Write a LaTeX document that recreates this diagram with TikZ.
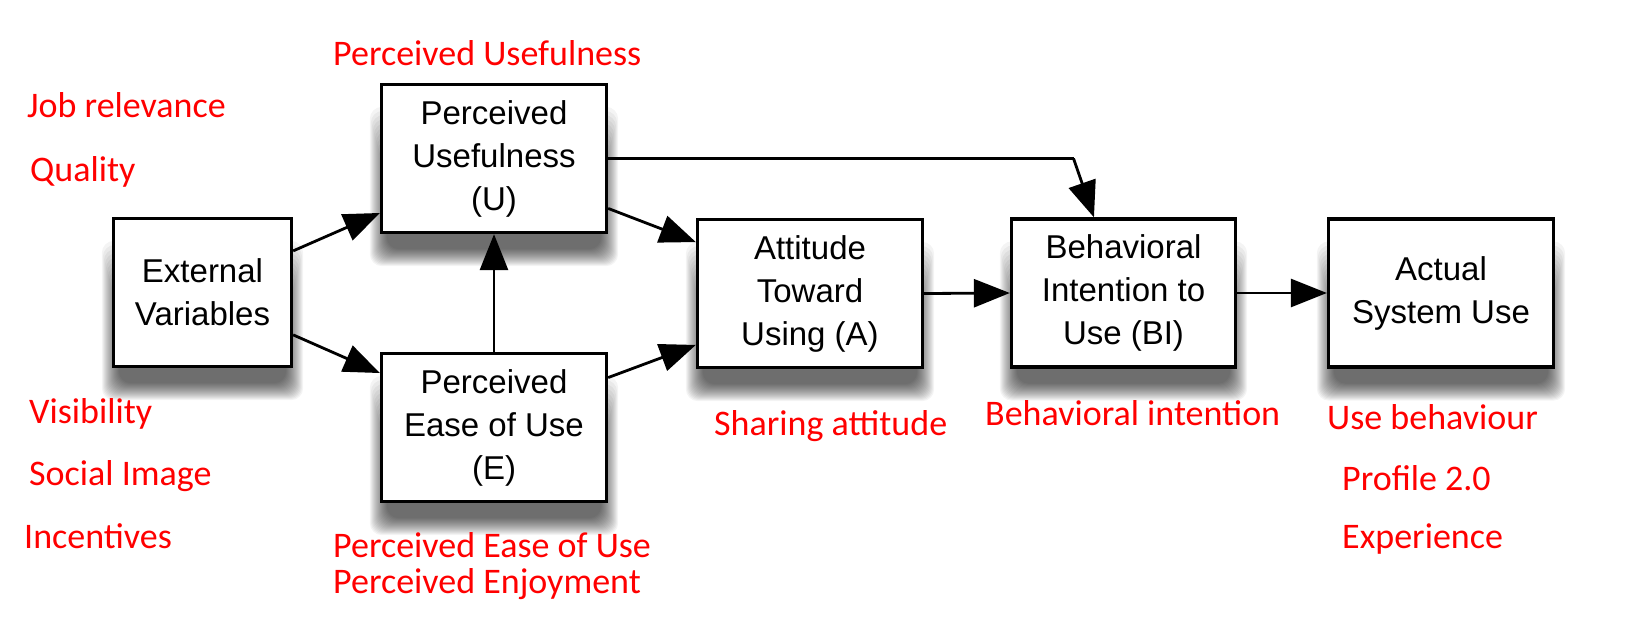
\documentclass[tikz,border=0pt]{standalone}
\usepackage{fontspec}
\setmainfont{Liberation Sans}
\newfontfamily\labfont{Carlito}
\usetikzlibrary{arrows.meta,calc}
\pgfdeclarelayer{bg}
\pgfsetlayers{bg,main}
\begin{document}
\begin{tikzpicture}[x=1pt,y=-1pt,
  box/.style={draw=black,line width=3.3pt,fill=white,align=center,inner sep=0pt,
    minimum width=225pt,minimum height=148pt,
    font=\fontsize{33}{43}\selectfont},
  shadowlayer/.style={fill=black,opacity=0.042,rounded corners=12pt},
  arr/.style={line width=2.8pt,-{Triangle[length=36pt,width=28pt]}},
  lab/.style={anchor=base west,inner sep=0pt,text=red,font=\labfont\fontsize{36}{40}\selectfont}]
\useasboundingbox (0,0) rectangle (1651,627);
\begin{pgfonlayer}{bg}
\fill[white] (0,0) rectangle (1651,627);
\end{pgfonlayer}

% boxes
\node[box,minimum width=178pt] (ext) at (202.5,292.5) {External\\Variables};
\node[box] (pu) at (494,158.5) {Perceived\\Usefulness\\(U)};
\node[box] (peou) at (494,427.5) {Perceived\\Ease of Use\\(E)};
\node[box] (att) at (810,293.5) {Attitude\\Toward\\Using (A)};
\node[box,minimum width=224pt] (bi) at (1123.5,293) {Behavioral\\Intention to\\Use (BI)};
\node[box] (act) at (1441,293) {Actual\\System Use};

% drop shadows
\begin{pgfonlayer}{bg}
\foreach \n in {ext,pu,peou,att,bi,act}{
  \foreach \r in {0,...,17}{
    \fill[shadowlayer] ($(\n.north west)+(-10+\r,24+4*\r)$) rectangle ($(\n.south east)+(10-\r,32-\r)$);
  }
}
\end{pgfonlayer}

% connectors
\draw[arr] ($(ext.north east)!0.225!(ext.south east)$) -- ($(pu.north west)!0.86!(pu.south west)$);
\draw[arr] ($(ext.north east)!0.78!(ext.south east)$) -- ($(peou.north west)!0.14!(peou.south west)$);
\draw[arr] (peou.north) -- (pu.south);
\draw[arr] ($(pu.north east)!0.83!(pu.south east)$) -- ($(att.north west)!0.16!(att.south west)$);
\draw[arr] ($(peou.north east)!0.17!(peou.south east)$) -- ($(att.north west)!0.84!(att.south west)$);
\draw[arr] (att.east) -- (bi.west);
\draw[arr] (bi.east) -- (act.west);
\coordinate (bitop) at ($(bi.north west)!0.37!(bi.north east)$);
\coordinate (bicol) at ($(bi.north west)!0.28!(bi.north east)$);
\coordinate (bend) at (bicol |- pu.east);
\draw[line width=2.8pt] (pu.east) -- (bend);
\draw[arr] (bend) -- (bitop);

% red labels
\node[lab] (l1) at (27,117) {Job relevance};
\node[lab] (l2) at (30,181) {Quality};
\node[lab] (l3) at (29,423) {Visibility};
\node[lab] (l4) at (29,485) {Social Image};
\node[lab] (l5) at (24,548) {Incentives};
\node[lab] (l6) at (333,65) {Perceived Usefulness};
\node[lab] (l7) at (333,557) {Perceived Ease of Use};
\node[lab] (l8) at (333,593) {Perceived Enjoyment};
\node[lab] (l9) at (714,435) {Sharing attitude};
\node[lab] (l10) at (985,425) {Behavioral intention};
\node[lab] (l11) at (1327,429) {Use behaviour};
\node[lab] (l12) at (1342,490) {Profile 2.0};
\node[lab] (l13) at (1342,548) {Experience};
\end{tikzpicture}
\end{document}
